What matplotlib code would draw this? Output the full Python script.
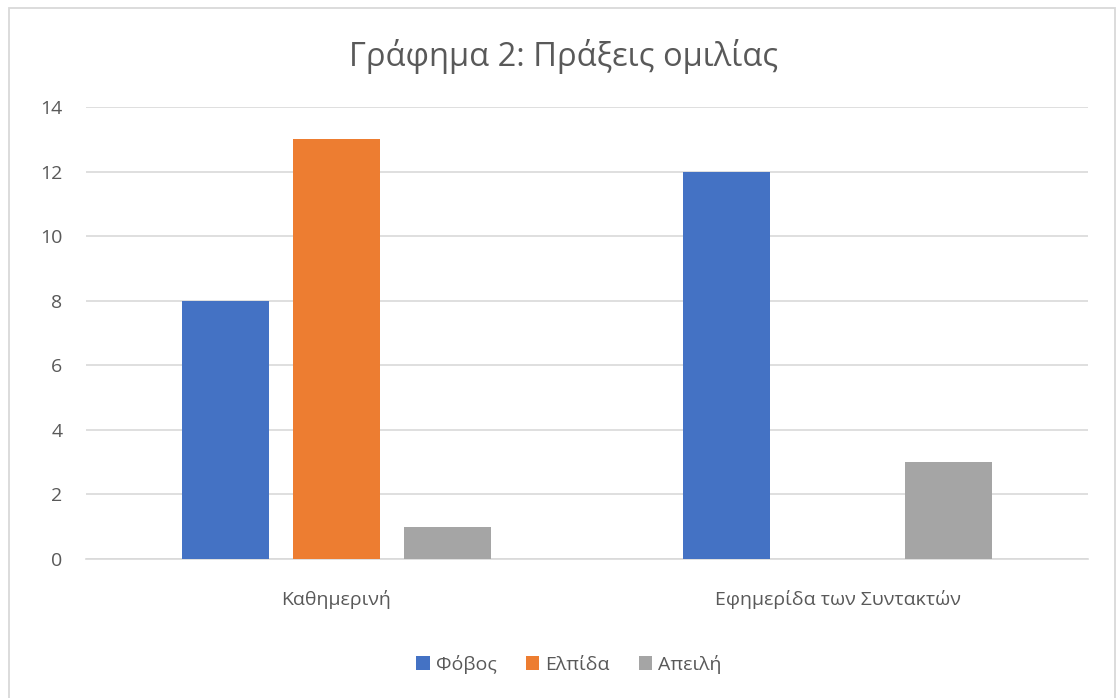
import numpy as np
import matplotlib.pyplot as plt
from matplotlib.patches import Rectangle

plt.rcParams['font.family'] = ['Open Sans', 'DejaVu Sans']

# data
categories = ["Καθημερινή", "Εφημερίδα των Συντακτών"]
series_names = ["Φόβος", "Ελπίδα", "Απειλή"]
fobos = [8, 12]
elpida = [13, 0]
apeili = [1, 3]
colors = ["#4472C4", "#ED7D31", "#A5A5A5"]

TEXT = "#595959"
GRID = "#D9D9D9"

fig = plt.figure(figsize=(11.2, 6.98), dpi=100)
ax = fig.add_axes([86/1120, 1 - 559/698, (1088 - 86)/1120, (559 - 107)/698])

# outer chart border
fig.patches.append(Rectangle((9/1120, -0.01), (1115 - 9)/1120, 1.01 - 8/698,
                             transform=fig.transFigure, fill=False,
                             edgecolor=GRID, linewidth=1.3))

x = np.arange(len(categories))
width = 0.172
step = 0.2216
for i, (vals, name) in enumerate(zip([fobos, elpida, apeili], series_names)):
    ax.bar(x + (i - 1) * step, vals, width, color=colors[i], label=name, zorder=3)

ax.set_xlim(-0.5, 1.5)
ax.set_ylim(0, 14)
ax.set_yticks(range(0, 15, 2))
ax.yaxis.grid(True, color=GRID, linewidth=1.2, zorder=0)
ax.set_xticks(x)
ax.set_xticklabels(categories)
ax.tick_params(axis='both', length=0, colors=TEXT)
ax.tick_params(axis='x', pad=22, labelsize=14)
ax.tick_params(axis='y', pad=17, labelsize=14)
for s in ['top', 'right', 'left']:
    ax.spines[s].set_visible(False)
ax.spines['bottom'].set_color(GRID)
ax.spines['bottom'].set_linewidth(1.2)

fig.text(564/1120, 1 - 56/698, "Γράφημα 2: Πράξεις ομιλίας", ha='center', va='center',
         fontsize=23.5, color=TEXT)

fig.legend(loc='center', bbox_to_anchor=(569/1120, 1 - 664/698), ncol=3, frameon=False,
           fontsize=14, labelcolor=TEXT, handlelength=0.7, handleheight=0.7,
           handletextpad=0.3, columnspacing=1.5)

fig.savefig("out.png", dpi=100)
